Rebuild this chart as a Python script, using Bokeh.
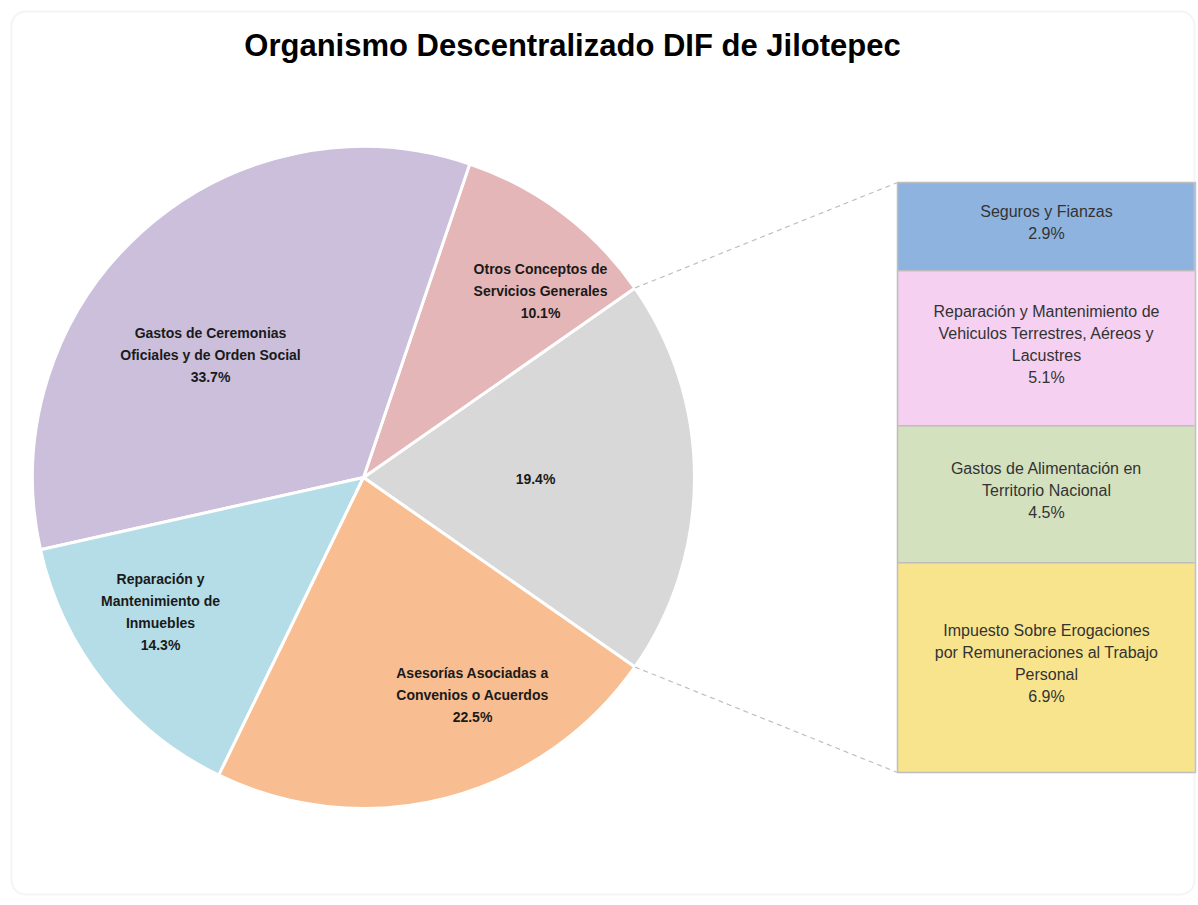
import math
from bokeh.plotting import figure
from bokeh.models import Range1d, BoxAnnotation, Label
from bokeh.embed import file_html
from bokeh.resources import INLINE

# ---- data ----
title = "Organismo Descentralizado DIF de Jilotepec"
pie_labels = [
    "19.4%",
    "Otros Conceptos de\nServicios Generales\n10.1%",
    "Gastos de Ceremonias\nOficiales y de Orden Social\n33.7%",
    "Reparación y\nMantenimiento de\nInmuebles\n14.3%",
    "Asesorías Asociadas a\nConvenios o Acuerdos\n22.5%",
]
pie_values = [19.4, 10.1, 33.7, 14.3, 22.5]
pie_colors = ["#D8D8D8", "#E5B6B8", "#CBBFDB", "#B4DDE7", "#F8BD90"]

bar_labels = [
    "Seguros y Fianzas\n2.9%",
    "Reparación y Mantenimiento de\nVehiculos Terrestres, Aéreos y\nLacustres\n5.1%",
    "Gastos de Alimentación en\nTerritorio Nacional\n4.5%",
    "Impuesto Sobre Erogaciones\npor Remuneraciones al Trabajo\nPersonal\n6.9%",
]
bar_values = [2.9, 5.1, 4.5, 6.9]
bar_colors = ["#8FB3DF", "#F6D0F1", "#D4E1BF", "#F9E48E"]

# ---- layout (reference pixel coordinates; data y = PH - pixel y) ----
PW, PH = 1198, 905
W, H = PW, PH
def py(v):
    return PH - v

p = figure(width=W, height=H, output_backend="svg", toolbar_location=None,
           x_range=Range1d(0, PW), y_range=Range1d(0, PH),
           x_axis_type=None, y_axis_type=None, min_border=0)
p.outline_line_color = None
p.grid.visible = False
p.background_fill_color = "white"
p.border_fill_color = "white"

p.add_layout(BoxAnnotation(left=11, right=1194, bottom=py(894), top=py(11),
                           fill_color="white", fill_alpha=0.0,
                           line_color="#D9D9D9", line_width=2, border_radius=14))

FONT = "Liberation Sans"

# ---- pie ----
cx, cy, r = 363, py(477), 331
total = sum(pie_values)
start = -pie_values[0] / total * math.pi
angles = []
a = start
for v in pie_values:
    b = a + v / total * 2 * math.pi
    angles.append((a, b))
    a = b
p.wedge(x=[cx] * len(pie_values), y=[cy] * len(pie_values), radius=r,
        start_angle=[s for s, e in angles], end_angle=[e for s, e in angles],
        fill_color=pie_colors, line_color="white", line_width=3)

# pie labels
label_pos = [(535, 478), (540, 268), (210, 332), (160, 578), (472, 672)]
for (lx, ly), txt in zip(label_pos, pie_labels):
    for i, line in enumerate(txt.split("\n")):
        p.add_layout(Label(x=lx, y=py(ly + i * 22), text=line, text_align="center",
                           text_baseline="middle", text_font=FONT,
                           text_font_size="14px", text_font_style="bold",
                           text_color="#1a1a1a"))

# ---- bar of pie ----
bx0, bx1 = 897, 1195
btop, bbot = 182, 772
scale = (bbot - btop) / sum(bar_values)
y = btop
for v, c, txt in zip(bar_values, bar_colors, bar_labels):
    y2 = y + v * scale
    p.quad(left=bx0, right=bx1, top=py(y), bottom=py(y2), fill_color=c,
           line_color="#BDBDBD", line_width=1.5)
    lines = txt.split("\n")
    mid = (y + y2) / 2
    n = len(lines)
    for i, line in enumerate(lines):
        yy = mid + (i - (n - 1) / 2) * 22 - 4
        p.add_layout(Label(x=(bx0 + bx1) / 2, y=py(yy), text=line, text_align="center",
                           text_baseline="middle", text_font=FONT,
                           text_font_size="16px", text_color="#333333"))
    y = y2

# connector lines
s0, e0 = angles[0]
p.line(x=[cx + r * math.cos(e0), bx0], y=[cy + r * math.sin(e0), py(btop)],
       line_color="#BFBFBF", line_dash="5 4", line_width=1.2)
p.line(x=[cx + r * math.cos(s0), bx0], y=[cy + r * math.sin(s0), py(bbot)],
       line_color="#BFBFBF", line_dash="5 4", line_width=1.2)

# title
p.add_layout(Label(x=572, y=py(45), text=title, text_align="center",
                   text_baseline="middle", text_font=FONT,
                   text_font_size="31px", text_font_style="bold", text_color="black"))

open("out.html", "w").write(file_html(p, INLINE))
